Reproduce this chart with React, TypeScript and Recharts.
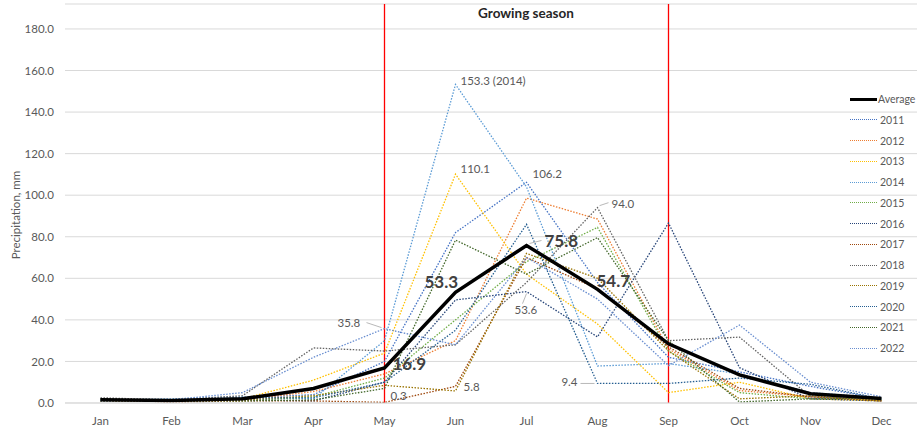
import { LineChart, Line, XAxis, YAxis, CartesianGrid, ReferenceLine, LabelList } from 'recharts'

// Monthly precipitation, mm
const months = ['Jan', 'Feb', 'Mar', 'Apr', 'May', 'Jun', 'Jul', 'Aug', 'Sep', 'Oct', 'Nov', 'Dec']
const average = [1.6, 1.2, 2.0, 7.0, 16.9, 53.3, 75.8, 54.7, 28.5, 13.5, 4.5, 2.2]
const y2011 = [1.0, 0.8, 2.5, 4.0, 20.0, 82.0, 106.2, 58.0, 22.0, 15.0, 8.0, 2.0]
const y2012 = [0.8, 1.0, 1.5, 5.5, 14.0, 30.0, 98.6, 88.5, 26.0, 6.0, 3.0, 1.2]
const y2013 = [1.2, 0.8, 2.0, 11.0, 24.0, 110.1, 62.0, 38.0, 5.0, 10.0, 2.0, 1.0]
const y2014 = [1.5, 2.0, 3.0, 2.0, 30.0, 153.3, 104.0, 17.8, 19.0, 14.0, 5.0, 2.5]
const y2015 = [1.0, 1.5, 1.0, 3.0, 12.0, 40.0, 68.0, 84.5, 25.0, 5.0, 2.0, 1.5]
const y2016 = [2.0, 1.0, 1.5, 1.0, 10.0, 49.6, 53.6, 31.8, 86.6, 17.0, 2.0, 1.0]
const y2017 = [1.5, 0.5, 1.0, 1.0, 0.3, 8.0, 70.0, 55.0, 27.0, 7.0, 3.0, 1.0]
const y2018 = [2.5, 1.5, 3.5, 26.5, 25.0, 28.0, 58.0, 94.0, 30.0, 31.7, 3.0, 2.0]
const y2019 = [1.0, 0.8, 1.5, 3.5, 8.5, 5.8, 72.0, 60.0, 25.0, 2.0, 3.5, 1.0]
const y2020 = [1.2, 1.0, 2.5, 2.5, 10.0, 35.0, 86.0, 9.4, 9.4, 12.0, 9.0, 2.0]
const y2021 = [2.0, 1.0, 1.0, 1.5, 7.0, 78.4, 62.0, 79.6, 30.0, 0.5, 2.0, 2.5]
const y2022 = [1.0, 1.5, 5.0, 22.0, 35.8, 28.0, 70.0, 50.0, 18.0, 37.5, 10.0, 3.0]
const yTicks = [0, 20, 40, 60, 80, 100, 120, 140, 160, 180]

const years = [
  { key: '2011', values: y2011, color: '#4472C4' },
  { key: '2012', values: y2012, color: '#ED7D31' },
  { key: '2013', values: y2013, color: '#FFC000' },
  { key: '2014', values: y2014, color: '#5B9BD5' },
  { key: '2015', values: y2015, color: '#70AD47' },
  { key: '2016', values: y2016, color: '#264478' },
  { key: '2017', values: y2017, color: '#9E480E' },
  { key: '2018', values: y2018, color: '#636363' },
  { key: '2019', values: y2019, color: '#997300' },
  { key: '2020', values: y2020, color: '#255E91' },
  { key: '2021', values: y2021, color: '#43682B' },
  { key: '2022', values: y2022, color: '#698ED0' },
]

const data = months.map((m, i) => {
  const row: Record<string, any> = { month: m, average: average[i] }
  years.forEach((y) => { row[y.key] = y.values[i] })
  return row
})

// annotated points: which series / month, where the text sits relative to the point
type Note = { series: string; month: string; dx: number; dy: number; anchor?: string; suffix?: string; leader?: [number, number, number, number]; big?: boolean }
const notes: Note[] = [
  { series: '2014', month: 'Jun', dx: 5, dy: -2, suffix: ' (2014)' },
  { series: '2013', month: 'Jun', dx: 5, dy: -4 },
  { series: '2011', month: 'Jul', dx: 6, dy: -7 },
  { series: '2018', month: 'Aug', dx: 14, dy: -3, leader: [2, -2, 11, -5] },
  { series: '2016', month: 'Jul', dx: -12, dy: 19, leader: [0, 2, -4, 12] },
  { series: '2022', month: 'May', dx: -47, dy: -5, leader: [-3, -1, -18, -6] },
  { series: '2020', month: 'Aug', dx: -20, dy: 0, anchor: 'end', leader: [-3, 0, -17, 0] },
  { series: '2017', month: 'May', dx: 6, dy: -5 },
  { series: '2019', month: 'Jun', dx: 8, dy: -3 },
  { series: 'average', month: 'Jul', dx: 18, dy: -3, big: true, leader: [3, -2, 15, -5] },
  { series: 'average', month: 'Jun', dx: -31, dy: -9, big: true },
  { series: 'average', month: 'Aug', dx: -1, dy: -7, big: true },
  { series: 'average', month: 'May', dx: 8, dy: -2, big: true },
]

const FONT = 'Lato, "Noto Sans", sans-serif'

function renderNote(series: string, props: any) {
  const { x, y, value, index } = props
  const note = notes.find((n) => n.series === series && n.month === months[index])
  if (!note || x == null || y == null) return null
  const text = Number(value).toFixed(1) + (note.suffix ?? '')
  return (
    <g key={`${series}-${index}`}>
      {note.leader && (
        <line
          x1={x + note.leader[0]} y1={y + note.leader[1]}
          x2={x + note.leader[2]} y2={y + note.leader[3]}
          stroke="#a6a6a6" strokeWidth={0.8}
        />
      )}
      <text
        x={x + note.dx} y={y + note.dy}
        textAnchor={note.anchor ?? 'start'} dominantBaseline="middle"
        fontFamily={FONT}
        fontSize={note.big ? 17 : 11.5}
        fontWeight={note.big ? 700 : 400}
        fill={note.big ? '#404040' : '#595959'}
      >
        {text}
      </text>
    </g>
  )
}

function YTitle() {
  return (
    <text x={17} y={215} transform="rotate(-90 17 215)" textAnchor="middle" dominantBaseline="middle"
      fontFamily={FONT} fontSize={11.5} fill="#595959">
      Precipitation, mm
    </text>
  )
}

export default function App() {
  return (
    <div style={{ position: 'absolute', left: 0, top: 0, width: 919, height: 430, background: '#fff', fontFamily: FONT }}>
      <LineChart width={919} height={430} data={data} margin={{ top: 4, right: 2, left: 8, bottom: 7 }}>
        <CartesianGrid horizontal vertical={false} stroke="#d9d9d9" />
        <XAxis dataKey="month" axisLine={{ stroke: '#d9d9d9' }} tickLine={false} tickMargin={8} height={20}
          padding={{ left: 35.5, right: 35.5 }}
          tick={{ fontSize: 11.5, fill: '#595959', fontFamily: FONT }} />
        <YAxis domain={[0, 192]} ticks={yTicks} width={57} axisLine={false} tickLine={false} tickMargin={5}
          tickFormatter={(v: number) => v.toFixed(1)}
          tick={{ fontSize: 11.5, fill: '#595959', fontFamily: FONT }}
          label={{ content: () => <YTitle /> }} />
        <ReferenceLine x="May" stroke="#ff0000" strokeWidth={1.3} />
        <ReferenceLine x="Sep" stroke="#ff0000" strokeWidth={1.3} />
        {years.map((y) => (
          <Line key={y.key} dataKey={y.key} stroke={y.color} strokeWidth={1.3} strokeDasharray="1.5 1.5"
            dot={false} activeDot={false} isAnimationActive={false}>
            <LabelList dataKey={y.key} content={(p: any) => renderNote(y.key, p)} />
          </Line>
        ))}
        <Line dataKey="average" stroke="#000000" strokeWidth={3.5} dot={false} activeDot={false} isAnimationActive={false}>
          <LabelList dataKey="average" content={(p: any) => renderNote('average', p)} />
        </Line>
      </LineChart>

      <div style={{ position: 'absolute', left: 426, width: 200, top: 5, textAlign: 'center', fontSize: 13.5, fontWeight: 700, color: '#262626' }}>
        Growing season
      </div>

      <div style={{ position: 'absolute', left: 850, top: 92, width: 69, overflow: 'hidden' }}>
        <div style={{ display: 'flex', alignItems: 'center', height: 14, marginBottom: 6.75 }}>
          <div style={{ width: 27, height: 0, borderTop: '3.5px solid #000' }} />
          <span style={{ fontSize: 10.5, color: '#595959', marginLeft: 1, whiteSpace: 'nowrap' }}>Average</span>
        </div>
        {years.map((y) => (
          <div key={y.key} style={{ display: 'flex', alignItems: 'center', height: 14, marginBottom: 6.75 }}>
            <div style={{ width: 27, height: 0, borderTop: `1.5px dotted ${y.color}` }} />
            <span style={{ fontSize: 10.5, color: '#595959', marginLeft: 3 }}>{y.key}</span>
          </div>
        ))}
      </div>
    </div>
  )
}
